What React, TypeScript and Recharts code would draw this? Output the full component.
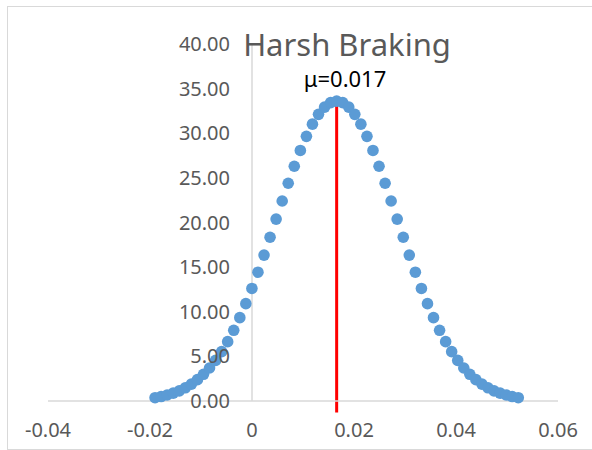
import React from 'react';
import {
  ScatterChart,
  Scatter,
  XAxis,
  YAxis,
  ReferenceLine,
} from 'recharts';

// Normal density curve of harsh-braking values
const X_VALUES = [
  -0.01901, -0.01782, -0.01664, -0.01545, -0.01426, -0.01308, -0.01189, -0.0107,
  -0.00951, -0.00833, -0.00714, -0.00595, -0.00477, -0.00358, -0.00239, -0.00121,
  -0.00002, 0.00117, 0.00236, 0.00354, 0.00473, 0.00592, 0.0071, 0.00829,
  0.00948, 0.01067, 0.01185, 0.01304, 0.01423, 0.01541, 0.0166, 0.01779,
  0.01897, 0.02016, 0.02135, 0.02254, 0.02372, 0.02491, 0.0261, 0.02728,
  0.02847, 0.02966, 0.03084, 0.03203, 0.03322, 0.03441, 0.03559, 0.03678,
  0.03797, 0.03915, 0.04034, 0.04153, 0.04271, 0.0439, 0.04509, 0.04628,
  0.04746, 0.04865, 0.04984, 0.05102, 0.05221,
];

const DENSITY = [
  0.37, 0.5, 0.67, 0.88, 1.14, 1.48, 1.89, 2.39,
  2.99, 3.7, 4.55, 5.53, 6.65, 7.92, 9.34, 10.91,
  12.61, 14.43, 16.35, 18.35, 20.38, 22.41, 24.4, 26.3,
  28.07, 29.65, 31.02, 32.12, 32.93, 33.43, 33.6, 33.43,
  32.93, 32.12, 31.02, 29.65, 28.07, 26.3, 24.4, 22.41,
  20.38, 18.35, 16.35, 14.43, 12.61, 10.91, 9.34, 7.92,
  6.65, 5.53, 4.55, 3.7, 2.99, 2.39, 1.89, 1.48,
  1.14, 0.88, 0.67, 0.5, 0.37,
];

const MEAN = 0.0166;
const MEAN_LINE_Y = [-1.3, 33.8];

const X_TICKS = [-0.04, -0.02, 0, 0.02, 0.04, 0.06];
const Y_TICKS = [0, 5, 10, 15, 20, 25, 30, 35, 40];
const X_DOMAIN: [number, number] = [-0.04, 0.06];
const Y_DOMAIN: [number, number] = [0, 40];

const TITLE = 'Harsh Braking';

const points = X_VALUES.map((x, i) => ({ x, y: DENSITY[i] }));

const WIDTH = 592;
const HEIGHT = 450;
const Y_AXIS_W = 1;
const MARGIN = { top: 44, right: 34, bottom: 19, left: 48 - Y_AXIS_W };
const PLOT_W = WIDTH - MARGIN.left - Y_AXIS_W - MARGIN.right;
// horizontal distance from the plot's left edge to x = 0, where the value axis crosses
const ZERO_OFFSET = (PLOT_W * (0 - X_DOMAIN[0])) / (X_DOMAIN[1] - X_DOMAIN[0]);

const FONT = '"Noto Sans", sans-serif';
const AXIS_GRAY = '#d9d9d9';
const TEXT_GRAY = '#595959';
const DOT_BLUE = '#5B9BD5';

const renderYTick = (props: any) => {
  const { x, y, payload } = props;
  return (
    <text
      x={x + ZERO_OFFSET + Y_AXIS_W}
      y={y}
      dy="0.35em"
      textAnchor="end"
      fontFamily={FONT}
      fontSize={20}
      fill={TEXT_GRAY}
    >
      {Number(payload.value).toFixed(2)}
    </text>
  );
};

const Dot = (props: any) => (
  <circle cx={props.cx} cy={props.cy} r={5.8} fill={DOT_BLUE} />
);

export default function App() {
  return (
    <div
      style={{
        position: 'absolute',
        left: 0,
        top: 0,
        width: WIDTH,
        height: HEIGHT,
        overflow: 'hidden',
        background: '#ffffff',
      }}
    >
      <div
        style={{
          position: 'absolute',
          left: 7,
          top: 6,
          width: 600,
          height: 442,
          border: `1px solid ${AXIS_GRAY}`,
        }}
      />
      <ScatterChart width={WIDTH} height={HEIGHT} margin={MARGIN}>
        <XAxis
          type="number"
          dataKey="x"
          domain={X_DOMAIN}
          ticks={X_TICKS}
          allowDataOverflow
          height={30}
          tickLine={false}
          tickSize={0}
          tickMargin={22}
          axisLine={{ stroke: AXIS_GRAY, strokeWidth: 1.5 }}
          tick={{ fontFamily: FONT, fontSize: 20, fill: TEXT_GRAY }}
          tickFormatter={(v: number) => (v === 0 ? '0' : v.toFixed(2))}
        />
        <YAxis
          type="number"
          dataKey="y"
          domain={Y_DOMAIN}
          ticks={Y_TICKS}
          width={Y_AXIS_W}
          tickLine={false}
          tickSize={0}
          tickMargin={23}
          axisLine={false}
          tick={renderYTick}
        />
        <ReferenceLine x={0} stroke={AXIS_GRAY} strokeWidth={1.5} />
        <Scatter
          data={points}
          shape={<Dot />}
          isAnimationActive={false}
        />
        <ReferenceLine
          segment={[
            { x: MEAN, y: MEAN_LINE_Y[0] },
            { x: MEAN, y: MEAN_LINE_Y[1] },
          ]}
          stroke="#ff0000"
          strokeWidth={3}
          ifOverflow="visible"
        />
      </ScatterChart>
      <div
        style={{
          position: 'absolute',
          left: 0,
          width: 694,
          top: 27,
          textAlign: 'center',
          fontFamily: FONT,
          fontSize: 31,
          color: TEXT_GRAY,
          lineHeight: '34px',
          whiteSpace: 'nowrap',
        }}
      >
        {TITLE}
      </div>
      <div
        style={{
          position: 'absolute',
          left: 0,
          width: 690,
          top: 66,
          textAlign: 'center',
          fontFamily: FONT,
          fontSize: 22,
          color: '#000000',
          lineHeight: '25px',
          whiteSpace: 'nowrap',
        }}
      >
        {`μ=${MEAN.toFixed(3)}`}
      </div>
    </div>
  );
}
